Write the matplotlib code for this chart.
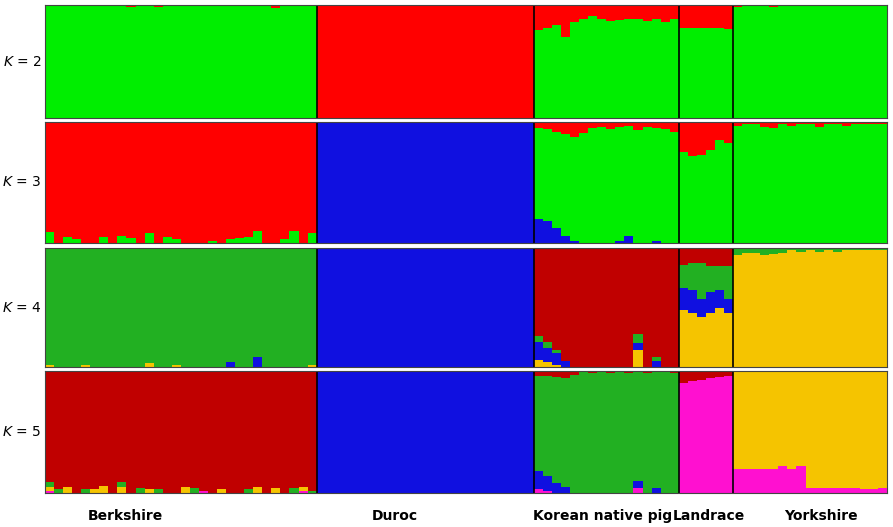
import numpy as np
import matplotlib.pyplot as plt

groups = ["Berkshire", "Duroc", "Korean native pig", "Landrace", "Yorkshire"]
sizes = [30, 24, 16, 6, 17]

# minor cluster fractions per group (main cluster fills the rest)
# K = 2 : clusters green, red
k2_red = {
    "Berkshire": [0, 0, 0, 0, 0, 0, 0, 0, 0, 0.02, 0, 0, 0.02, 0, 0, 0, 0, 0, 0, 0, 0, 0, 0, 0, 0, 0.03, 0, 0, 0, 0],
    "Korean native pig": [0.22, 0.2, 0.18, 0.28, 0.15, 0.12, 0.1, 0.12, 0.14, 0.13, 0.12, 0.12, 0.14, 0.12, 0.15, 0.12],
    "Landrace": [0.2, 0.2, 0.2, 0.2, 0.2, 0.21],
    "Yorkshire": [0.02, 0, 0.01, 0, 0.02, 0, 0, 0, 0.01, 0, 0, 0, 0, 0, 0.01, 0, 0],
}
# K = 3 : blue, green, red
k3_green_berk = [0.09, 0, 0.05, 0.03, 0, 0, 0.05, 0, 0.06, 0.04, 0, 0.08, 0, 0.05, 0.03, 0, 0, 0,
                 0.02, 0, 0.03, 0.04, 0.05, 0.1, 0, 0, 0.03, 0.1, 0, 0.08]
k3_kor_blue = [0.2, 0.18, 0.12, 0.06, 0.02, 0, 0, 0, 0, 0.02, 0.06, 0, 0, 0.02, 0, 0]
k3_kor_red = [0.05, 0.06, 0.08, 0.1, 0.12, 0.09, 0.05, 0.04, 0.06, 0.04, 0.03, 0.07, 0.04, 0.05, 0.06, 0.08]
k3_land_red = [0.25, 0.28, 0.27, 0.23, 0.15, 0.17]
k3_york_red = [0.03, 0.02, 0.02, 0.04, 0.05, 0.02, 0.03, 0.02, 0.02, 0.04, 0.02, 0.02, 0.03, 0.02, 0.02, 0.02, 0.02]
# K = 4 : yellow, blue, green, red
k4_berk_blue = [0, 0, 0, 0, 0, 0, 0, 0, 0, 0, 0, 0, 0, 0, 0, 0, 0, 0, 0, 0, 0.04, 0, 0, 0.08, 0, 0, 0, 0, 0, 0]
k4_berk_yel = [0.02, 0, 0, 0, 0.02, 0, 0, 0, 0, 0, 0, 0.03, 0, 0, 0.02, 0, 0, 0, 0, 0, 0, 0, 0, 0, 0, 0, 0, 0, 0, 0.02]
k4_kor_blue = [0.15, 0.12, 0.1, 0.05, 0, 0, 0, 0, 0, 0, 0, 0.06, 0, 0.05, 0, 0]
k4_kor_yel = [0.06, 0.04, 0.02, 0, 0, 0, 0, 0, 0, 0, 0, 0.14, 0, 0, 0, 0]
k4_kor_green = [0.05, 0.05, 0.02, 0, 0, 0, 0, 0, 0, 0, 0, 0.08, 0, 0.03, 0, 0]
k4_land = {"yellow": [0.48, 0.45, 0.42, 0.45, 0.5, 0.45], "blue": [0.18, 0.2, 0.15, 0.18, 0.15, 0.12],
           "green": [0.2, 0.22, 0.3, 0.22, 0.2, 0.28]}
k4_york_green = [0.06, 0.04, 0.04, 0.06, 0.05, 0.04, 0.02, 0.03, 0.02, 0.03, 0.02, 0.03, 0.02, 0.02, 0.02, 0.02, 0.02]
# K = 5 : magenta, yellow, blue, green, red
k5_berk_yel = [0.03, 0, 0.05, 0, 0, 0.03, 0.06, 0, 0.05, 0, 0, 0.03, 0, 0, 0, 0.05, 0, 0, 0, 0.03, 0, 0, 0, 0.05, 0, 0.04, 0, 0, 0.03, 0]
k5_berk_green = [0.04, 0.03, 0, 0, 0.03, 0, 0, 0, 0.04, 0, 0.04, 0, 0.03, 0, 0, 0, 0.04, 0, 0, 0, 0, 0, 0.03, 0, 0, 0, 0, 0.04, 0, 0.02]
k5_berk_mag = [0.02, 0, 0, 0, 0, 0, 0, 0, 0, 0, 0, 0, 0, 0, 0, 0, 0, 0.02, 0, 0, 0, 0, 0, 0, 0, 0, 0, 0, 0.02, 0]
k5_kor_blue = [0.15, 0.12, 0.08, 0.05, 0, 0, 0, 0, 0, 0, 0, 0.06, 0, 0.04, 0, 0]
k5_kor_mag = [0.03, 0.02, 0, 0, 0, 0, 0, 0, 0, 0, 0, 0.04, 0, 0, 0, 0]
k5_kor_red = [0.04, 0.04, 0.05, 0.06, 0.03, 0, 0.02, 0, 0.02, 0, 0.02, 0, 0.02, 0, 0, 0.02]
k5_land_red = [0.1, 0.08, 0.07, 0.06, 0.05, 0.04]
k5_york_mag = [0.2, 0.2, 0.2, 0.2, 0.2, 0.22, 0.2, 0.22, 0.04, 0.04, 0.04, 0.04, 0.04, 0.04, 0.03, 0.03, 0.04]

C = {"red": "#ff0000", "dred": "#c00000", "green": "#00ee00", "dgreen": "#22b022",
     "blue": "#1010e0", "yellow": "#f5c400", "mag": "#ff10d0"}


def z(n):
    return [0.0] * n


def build(parts):
    # parts: list of (group_index, {cluster: list}, main_cluster), returns dict of arrays
    return parts


n_tot = sum(sizes)
starts = np.cumsum([0] + sizes)


def panel(clusters, fill):
    data = {c: np.zeros(n_tot) for c in clusters}
    for gi, g in enumerate(groups):
        s, e = starts[gi], starts[gi + 1]
        main, minors = fill[g]
        tot = np.zeros(e - s)
        for c, v in minors.items():
            data[c][s:e] = v
            tot += np.array(v)
        data[main][s:e] = 1 - tot
    return data


B, D, KN, L, Y = sizes
k2 = panel(["green", "red"], {
    "Berkshire": ("green", {"red": k2_red["Berkshire"]}),
    "Duroc": ("red", {}),
    "Korean native pig": ("green", {"red": k2_red["Korean native pig"]}),
    "Landrace": ("green", {"red": k2_red["Landrace"]}),
    "Yorkshire": ("green", {"red": k2_red["Yorkshire"]}),
})
k3 = panel(["blue", "green", "red"], {
    "Berkshire": ("red", {"green": k3_green_berk}),
    "Duroc": ("blue", {}),
    "Korean native pig": ("green", {"blue": k3_kor_blue, "red": k3_kor_red}),
    "Landrace": ("green", {"red": k3_land_red}),
    "Yorkshire": ("green", {"red": k3_york_red}),
})
k4 = panel(["yellow", "blue", "dgreen", "dred"], {
    "Berkshire": ("dgreen", {"blue": k4_berk_blue, "yellow": k4_berk_yel}),
    "Duroc": ("blue", {}),
    "Korean native pig": ("dred", {"blue": k4_kor_blue, "yellow": k4_kor_yel, "dgreen": k4_kor_green}),
    "Landrace": ("dred", {"yellow": k4_land["yellow"], "blue": k4_land["blue"], "dgreen": k4_land["green"]}),
    "Yorkshire": ("yellow", {"dgreen": k4_york_green}),
})
k5 = panel(["mag", "yellow", "blue", "dgreen", "dred"], {
    "Berkshire": ("dred", {"yellow": k5_berk_yel, "dgreen": k5_berk_green, "mag": k5_berk_mag}),
    "Duroc": ("blue", {}),
    "Korean native pig": ("dgreen", {"blue": k5_kor_blue, "mag": k5_kor_mag, "dred": k5_kor_red}),
    "Landrace": ("mag", {"dred": k5_land_red}),
    "Yorkshire": ("yellow", {"mag": k5_york_mag}),
})

fig = plt.figure(figsize=(8.93, 5.27), dpi=100)
W, H = 893, 527
rows = [(2, k2, 5, 118), (3, k3, 122, 243), (4, k4, 248, 367), (5, k5, 371, 493)]
x0, x1 = 45, 887
x = np.arange(n_tot)
for k, data, ytop, ybot in rows:
    ax = fig.add_axes([x0 / W, 1 - ybot / H, (x1 - x0) / W, (ybot - ytop) / H])
    bottom = np.zeros(n_tot)
    for c, v in data.items():
        ax.bar(x, v, bottom=bottom, width=1.0, color=C[c], linewidth=0)
        bottom += v
    for s in starts[1:-1]:
        ax.axvline(s - 0.5, color="black", lw=1.2)
    ax.set_xlim(-0.5, n_tot - 0.5)
    ax.set_ylim(0, 1)
    ax.set_xticks([])
    ax.set_yticks([])
    for sp in ax.spines.values():
        sp.set_color("#444444")
    fig.text(22 / W, 1 - (ytop + ybot) / 2 / H, f"$K$ = {k}", ha="center", va="center", fontsize=10)

label_x = [125, 395, 603, 709, 821]
for g, lx in zip(groups, label_x):
    fig.text(lx / W, 1 - 516 / H, g, ha="center", va="center", fontsize=10, fontweight="bold")

fig.savefig("out.png", dpi=100)
